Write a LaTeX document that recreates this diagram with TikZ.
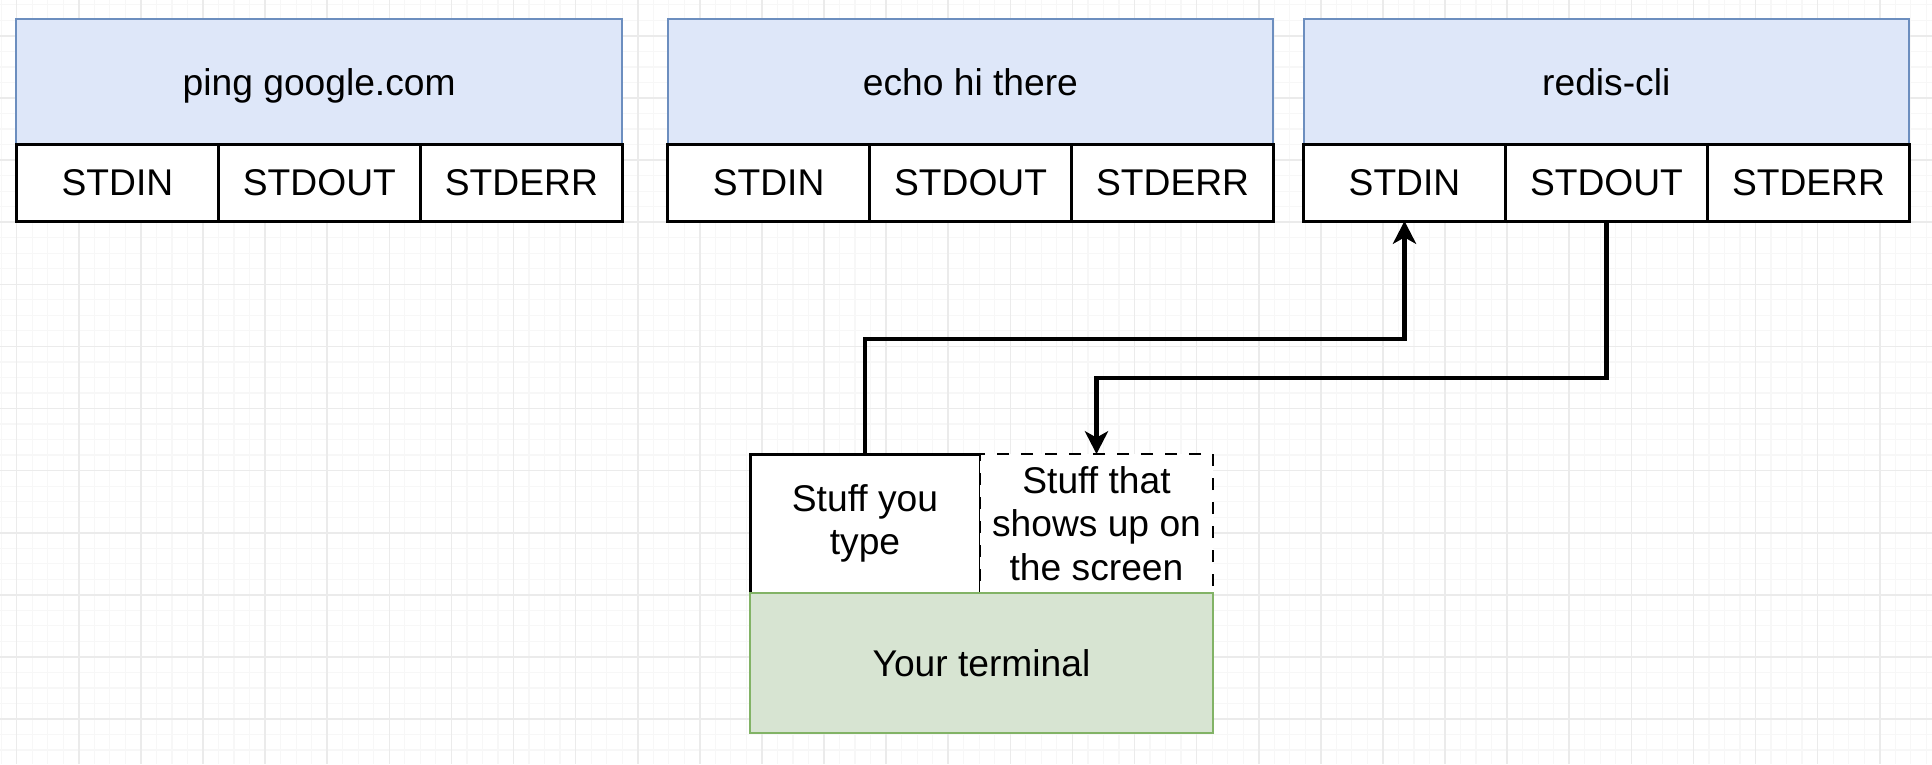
\documentclass[tikz,border=0pt]{standalone}
\usepackage{fontspec}
\setmainfont{Liberation Sans}
\usepackage{tikz}
\usetikzlibrary{arrows.meta,positioning}

\definecolor{headerfill}{RGB}{222,231,249}
\definecolor{headerline}{RGB}{108,142,191}
\definecolor{termfill}{RGB}{215,228,210}
\definecolor{termline}{RGB}{130,179,102}
\definecolor{gridmajor}{RGB}{235,235,235}
\definecolor{gridminor}{RGB}{247,247,247}

\begin{document}
\begin{tikzpicture}[x=0.25pt, y=-0.25pt, node distance=0pt, auto, font=\fontsize{9.3}{10.8}\selectfont]
    % Define styles
    \tikzstyle{header} = [rectangle, minimum width=151.4pt, minimum height=31.2pt, text height=9pt, text depth=1.9pt, text centered, outer sep=0pt, draw=headerline, fill=headerfill, line width=0.5pt]
    \tikzstyle{stream} = [rectangle, minimum width=50.5pt, minimum height=19.25pt, text centered, outer sep=0pt, draw=black, fill=white, line width=0.75pt]
    \tikzstyle{cell} = [rectangle, minimum height=34.75pt, align=center, inner sep=1pt, outer sep=0pt, draw=black, fill=white, line width=0.75pt]
    \tikzstyle{terminal} = [rectangle, minimum width=115.75pt, minimum height=35pt, text centered, outer sep=0pt, draw=termline, fill=termfill, line width=0.5pt]
    \tikzstyle{flow} = [-{Stealth[length=5.7pt, width=5.8pt, inset=1.6pt]}, line width=1.1pt]

    \useasboundingbox (0,0) rectangle (1932,764);
    \fill[white] (0,0) rectangle (1932,764);

    % Background grid
    \foreach \k in {0,...,125} \draw[gridminor, line width=0.3pt] ({1.175+\k*15.525},0) -- ++(0,764);
    \foreach \k in {0,...,49} \draw[gridminor, line width=0.3pt] (0,{4.85+\k*15.525}) -- ++(1932,0);
    \foreach \k in {0,...,30} \draw[gridmajor, line width=0.4pt] ({16.7+\k*62.1},0) -- ++(0,764);
    \foreach \k in {0,...,11} \draw[gridmajor, line width=0.4pt] (0,{35.9+\k*62.1}) -- ++(1932,0);

    % Nodes
    \node[header] (ping) at (319.2,81.6) {ping google.com};
    \node[stream, anchor=north west] (ping_in) at (ping.south west) {STDIN};
    \node[stream, right=of ping_in] (ping_out) {STDOUT};
    \node[stream, right=of ping_out] (ping_err) {STDERR};

    \node[header] (echo) at (970.4,81.6) {echo hi there};
    \node[stream, anchor=north west] (echo_in) at (echo.south west) {STDIN};
    \node[stream, right=of echo_in] (echo_out) {STDOUT};
    \node[stream, right=of echo_out] (echo_err) {STDERR};

    \node[header] (redis) at (1606.3,81.6) {redis-cli};
    \node[stream, anchor=north west] (redis_in) at (redis.south west) {STDIN};
    \node[stream, right=of redis_in] (redis_out) {STDOUT};
    \node[stream, right=of redis_out] (redis_err) {STDERR};

    \node[cell, minimum width=57.5pt] (typed) at (865,523.5) {Stuff you\\type};
    \node[cell, minimum width=58.25pt, right=of typed, dashed, line width=0.5pt] (screen) {Stuff that\\shows up on\\the screen};
    \node[terminal, anchor=north west] (term) at (typed.south west) {Your terminal};

    \coordinate (bend_in) at (typed.north |- 0,339);
    \coordinate (bend_out) at (screen.north |- 0,378);

    % Connections
    \draw[flow] (typed.north) -- (bend_in) -| (redis_in.south);
    \draw[flow] (redis_out.south) |- (bend_out) -- (screen.north);
\end{tikzpicture}
\end{document}
